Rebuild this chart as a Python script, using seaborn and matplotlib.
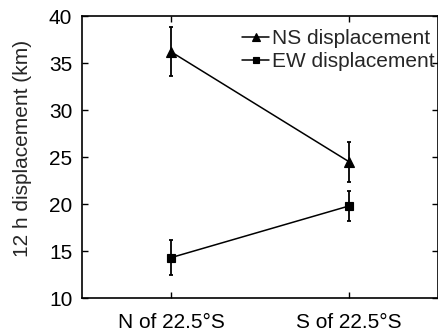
import matplotlib
matplotlib.use("Agg")
import matplotlib.pyplot as plt
import seaborn as sns
import pandas as pd
import numpy as np

# values
regions = ["N of 22.5°S", "S of 22.5°S"]
ns_mean = [36.2, 24.5]
ns_err = [2.6, 2.1]
ew_mean = [14.3, 19.8]
ew_err = [1.9, 1.6]

df = pd.DataFrame({
    "region": regions * 2,
    "disp": ns_mean + ew_mean,
    "err": ns_err + ew_err,
    "series": ["NS displacement"] * 2 + ["EW displacement"] * 2,
})

sns.set_style("ticks")
plt.rcParams["font.family"] = ["Liberation Sans", "DejaVu Sans"]

fig = plt.figure(figsize=(4.39, 3.36), dpi=100)
ax = fig.add_axes([0.187, 0.113, 0.811, 0.839])

sns.pointplot(data=df, x="region", y="disp", hue="series",
              markers=["^", "s"], linestyles=["-", "-"],
              palette=["black", "black"], errorbar=None,
              markersize=5.5, linewidth=1.1, ax=ax)
# triangles a bit bigger than the squares
for ln in ax.lines:
    if ln.get_marker() == "^":
        ln.set_markersize(6.5)

# error bars
for name, g in df.groupby("series", sort=False):
    ax.errorbar(np.arange(len(g)), g["disp"], yerr=g["err"], fmt="none",
                ecolor="black", elinewidth=1.3, capsize=1.6, capthick=1.3)

ax.set_xlim(-0.5, 1.5)
ax.set_ylim(10, 40)
ax.set_yticks(range(10, 41, 5))
ax.set_xlabel("")
ax.set_ylabel("12 h displacement (km)", fontsize=15)
ax.yaxis.set_label_coords(-0.14, 0.53)
ax.tick_params(direction="in", labelsize=15, top=True, right=True,
               length=4, width=1, colors="black")
ax.tick_params(axis="y", pad=7)
ax.tick_params(axis="x", pad=11)
for s in ax.spines.values():
    s.set_linewidth(1.2)
    s.set_color("black")

leg = ax.legend(loc="upper right", bbox_to_anchor=(1.0, 0.965), frameon=False,
                fontsize=15, handlelength=1.3, handletextpad=0.15,
                borderaxespad=0.05, labelspacing=0.2, borderpad=0.1,
                markerscale=0.8)

fig.savefig("out.png", dpi=100)
